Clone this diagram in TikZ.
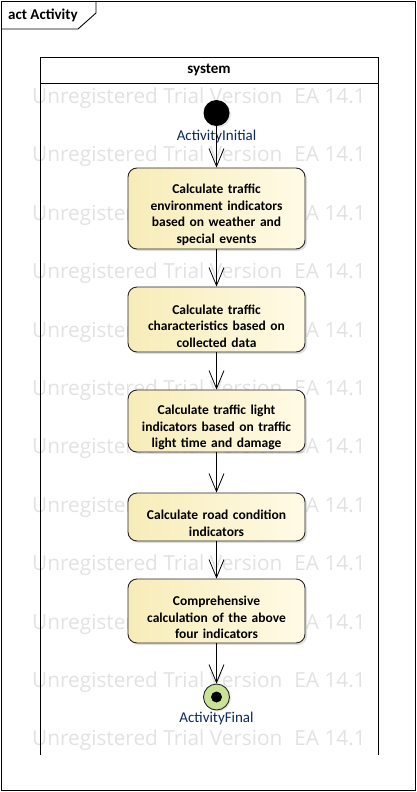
\documentclass[tikz,border=0pt]{standalone}
\usepackage{fontspec}
\setmainfont{Carlito}
\newfontfamily\wmfont{Open Sans}
\usetikzlibrary{arrows.meta,shadows}

\definecolor{actleft}{RGB}{247,236,184}
\definecolor{actright}{RGB}{255,251,230}
\definecolor{labelblue}{RGB}{10,40,90}
\definecolor{finalgreen}{RGB}{202,226,150}
\definecolor{wmgray}{RGB}{226,226,226}

\tikzset{
  action/.style={draw=black!85, line width=0.9pt, rounded corners=9pt,
    minimum width=177pt, text width=175pt, align=center, inner sep=0pt,
    font=\bfseries\fontsize{13.5}{16.6}\selectfont,
    execute at end node={\par\vspace*{-13pt}},
    left color=actleft, right color=actright,
    drop shadow={shadow xshift=2pt, shadow yshift=-2pt, opacity=0.25}},
  flow/.style={draw, line width=0.8pt, -{Straight Barb[length=18pt,width=15pt,line width=0.8pt]}},
  statelabel/.style={font=\fontsize{15}{17}\selectfont, text=labelblue, inner sep=0pt},
  titletext/.style={font=\bfseries\fontsize{15}{17}\selectfont, inner sep=0pt},
  watermark/.style={font=\wmfont\fontsize{20.8}{23}\selectfont, text=wmgray, inner sep=0pt, anchor=west}
}

\begin{document}
\begin{tikzpicture}[x=1pt,y=-1pt]
  \useasboundingbox (0,0) rectangle (417,792);

  % watermark rows
  \foreach \k in {0,...,11}
    \node[watermark] (wm\k) at (32,{98+58.4*\k}) {Unregistered Trial Version\hspace{12pt}EA 14.1};

  % frame and tab
  \draw[line width=0.9pt] (1,1) rectangle (415,790);
  \draw[line width=0.9pt] (1,29) -- (78,29) -- (96,13) -- (96,1);
  \node[titletext, anchor=west] (frametitle) at (8,15) {act Activity};

  % partition
  \draw[line width=0.9pt] (40,755) -- (40,57) -- (378,57) -- (378,755);
  \draw[line width=0.9pt] (40,83) -- (378,83);
  \node[titletext] (lane) at (209,70) {system};

  % initial and final
  \node[circle, fill=black, minimum size=26pt, inner sep=0pt,
    drop shadow={shadow xshift=1.5pt, shadow yshift=-1.5pt, opacity=0.2}] (init) at (216.5,113) {};
  \node[statelabel] (initlabel) at (216.5,136) {ActivityInitial};

  \node[circle, draw=black!85, line width=0.9pt, fill=finalgreen, minimum size=26pt, inner sep=0pt,
    drop shadow={shadow xshift=1.5pt, shadow yshift=-1.5pt, opacity=0.2}] (final) at (216.5,697) {};
  \fill (final.center) circle (5.5pt);
  \node[statelabel] (finallabel) at (216.5,718) {ActivityFinal};

  % actions
  \node[action, minimum height=81pt] (envind) at (216.5,208.5) {Calculate traffic\\environment indicators\\based on weather and\\special events};
  \node[action, minimum height=65pt] (trafchar) at (216.5,319.5) {Calculate traffic\\characteristics based on\\collected data};
  \node[action, minimum height=62pt] (lightind) at (216.5,421) {Calculate traffic light\\indicators based on traffic\\light time and damage};
  \node[action, minimum height=48pt] (roadind) at (216.5,517) {Calculate road condition\\indicators};
  \node[action, minimum height=64pt] (combined) at (216.5,611) {Comprehensive\\calculation of the above\\four indicators};

  % flows
  \draw[flow] (init) -- (envind);
  \draw[flow] (envind) -- (trafchar);
  \draw[flow] (trafchar) -- (lightind);
  \draw[flow] (lightind) -- (roadind);
  \draw[flow] (roadind) -- (combined);
  \draw[flow] (combined) -- (final);
\end{tikzpicture}
\end{document}
